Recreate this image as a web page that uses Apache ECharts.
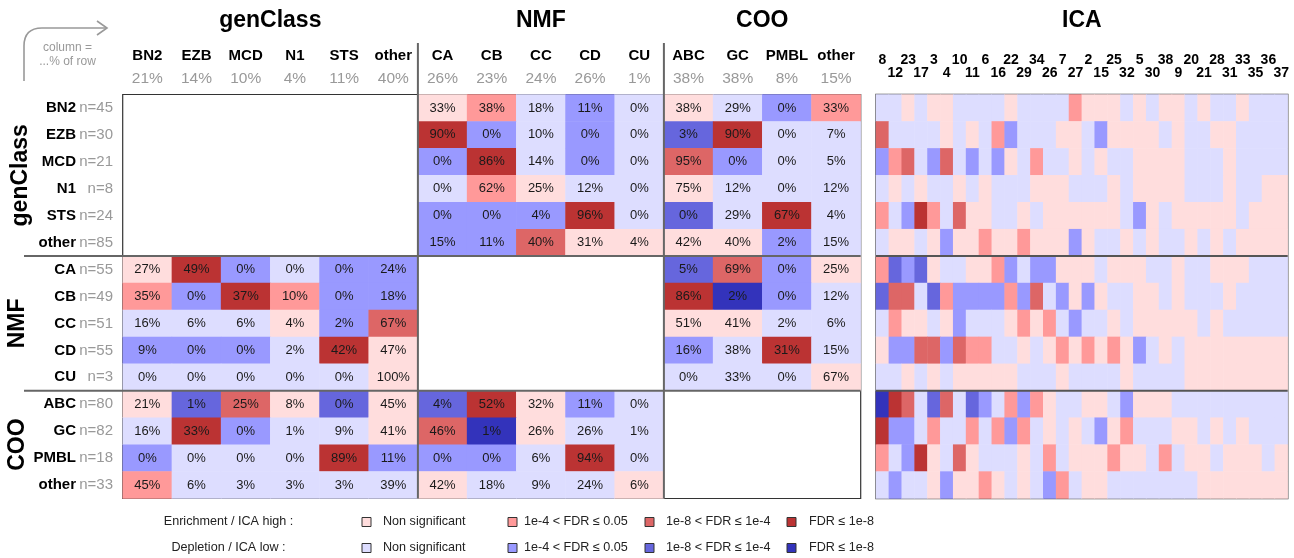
<!DOCTYPE html>
<html><head><meta charset="utf-8">
<script src="https://cdn.jsdelivr.net/npm/echarts@6/dist/echarts.min.js"></script>
<style>html,body{margin:0;padding:0;background:#fff}#c{width:1294px;height:558px}</style>
</head><body><div id="c"></div>
<script>
// ---------- data ----------
const genClassCats = ['BN2','EZB','MCD','N1','STS','other'];
const nmfCats = ['CA','CB','CC','CD','CU'];
const cooCats = ['ABC','GC','PMBL','other'];
const genClassColPct = [21,14,10,4,11,40];
const nmfColPct = [26,23,24,26,1];
const cooColPct = [38,38,8,15];
const genClassN = [45,30,21,8,24,85];
const nmfN = [55,49,51,55,3];
const cooN = [80,82,18,33];

// level: 1..4 enrichment (non-sig, <=0.05, <=1e-4, <=1e-8), -1..-4 depletion
const gcNmfPct = [[33,38,18,11,0],[90,0,10,0,0],[0,86,14,0,0],[0,62,25,12,0],[0,0,4,96,0],[15,11,40,31,4]];
const gcNmfLvl = [[1,2,-1,-2,-1],[4,-2,-1,-2,-1],[-2,4,-1,-2,-1],[-1,2,1,-1,-1],[-2,-2,-2,4,-1],[-2,-2,3,1,1]];
const gcCooPct = [[38,29,0,33],[3,90,0,7],[95,0,0,5],[75,12,0,12],[0,29,67,4],[42,40,2,15]];
const gcCooLvl = [[1,-1,-2,2],[-3,4,-1,-1],[3,-2,-1,-1],[1,-1,-1,-1],[-3,-1,4,-1],[1,1,-2,-1]];
const nmfGcPct = [[27,49,0,0,0,24],[35,0,37,10,0,18],[16,6,6,4,2,67],[9,0,0,2,42,47],[0,0,0,0,0,100]];
const nmfGcLvl = [[1,4,-2,-1,-2,-2],[2,-2,4,2,-2,-2],[-1,-1,-1,1,-2,3],[-2,-2,-2,-1,4,1],[-1,-1,-1,-1,-1,1]];
const nmfCooPct = [[5,69,0,25],[86,2,0,12],[51,41,2,6],[16,38,31,15],[0,33,0,67]];
const nmfCooLvl = [[-3,3,-2,1],[4,-4,-2,-1],[1,1,-1,-1],[-2,-1,4,-1],[-1,-1,-1,1]];
const cooGcPct = [[21,1,25,8,0,45],[16,33,0,1,9,41],[0,0,0,0,89,11],[45,6,3,3,3,39]];
const cooGcLvl = [[1,-3,3,1,-3,1],[-1,4,-2,-1,-1,1],[-2,-1,-1,-1,4,-2],[2,-1,-1,-1,-1,-1]];
const cooNmfPct = [[4,52,32,11,0],[46,1,26,26,1],[0,0,6,94,0],[42,18,9,24,6]];
const cooNmfLvl = [[-3,4,1,-2,-1],[3,-4,1,-1,-1],[-2,-2,-1,4,-1],[1,-1,-1,-1,1]];

const icaIds = [8,12,23,17,3,4,10,11,6,16,22,29,34,26,7,27,2,15,25,32,5,30,38,9,20,21,28,31,33,35,36,37];
const icaBN2  = [-1,-1,1,-1,1,1,-1,-1,-1,-1,1,-1,-1,-1,-1,2,1,1,1,-1,1,-1,1,1,-1,1,-1,-1,1,-1,-1,-1];
const icaEZB  = [3,-1,-1,-1,-1,1,-1,1,-1,2,-2,-1,-1,-1,1,1,-1,-2,1,1,1,1,-1,1,-1,-1,1,1,-1,-1,-1,-1];
const icaMCD  = [-2,2,3,-1,-2,3,-1,-2,-1,-2,1,-1,2,-1,-1,1,-1,1,-1,-1,1,1,1,1,-1,-1,-1,1,-1,-1,-1,-1];
const icaN1   = [-1,1,-1,1,-1,-1,1,-1,1,-1,-1,-1,1,1,1,-1,-1,-1,1,-1,1,1,1,1,-1,-1,-1,1,-1,-1,1,1];
const icaSTS  = [2,-1,-2,4,2,-1,3,1,1,-1,-1,1,-1,1,1,1,1,1,1,-1,-2,1,-1,1,1,1,1,1,-1,1,1,1];
const icaGcOther = [-1,1,1,-1,1,-2,1,1,2,1,1,2,1,1,1,-2,1,-1,-1,1,-1,1,-1,-1,1,-1,1,-1,1,1,1,1];
const icaCA   = [2,-3,-2,-3,1,-1,-1,1,1,2,-2,-1,-2,-2,1,1,1,-1,1,1,1,-1,-1,1,-1,-1,1,1,1,-1,-1,-1];
const icaCB   = [-3,3,3,-1,-3,2,-2,-2,-2,-2,2,-2,3,-1,-2,1,-2,1,-1,-1,1,1,-1,1,-1,-1,-1,1,-1,-1,-1,-1];
const icaCC   = [-1,2,1,1,-1,1,-2,-1,-1,-1,1,2,1,2,-1,-2,-1,-1,1,-1,1,1,1,1,1,-1,1,-1,-1,-1,-1,-1];
const icaCD   = [1,-2,-2,3,3,-2,3,2,2,-1,-1,1,-1,1,2,1,2,1,2,1,-2,-1,1,-1,1,1,1,1,1,1,1,1];
const icaCU   = [-1,-1,1,-1,1,-1,1,1,1,1,1,-1,-1,-1,1,-1,-1,-1,-1,1,-1,-1,-1,-1,1,1,1,1,1,1,1,1];
const icaABC  = [-4,4,3,-1,-3,3,-1,-3,-2,-1,2,-2,2,1,-1,-1,1,1,-1,-2,1,1,1,-1,-1,-1,-1,-1,-1,-1,-1,-1];
const icaGC   = [4,-2,-2,-1,2,-1,-1,2,-1,2,-2,2,-1,1,-1,1,-1,-2,1,2,-1,-1,-1,1,1,-1,1,-1,1,-1,-1,-1];
const icaPMBL = [2,-1,-2,4,1,-1,3,1,-1,-1,-1,1,-1,2,-1,1,1,1,2,1,1,-1,2,-1,1,1,-1,1,1,1,-1,1];
const icaCooOther = [-1,-2,-1,-1,1,-2,1,1,2,1,-1,1,-1,-2,2,-1,1,1,-1,-1,-1,-1,-1,-1,-1,1,1,1,1,1,1,1];

const legendLabels = ['Non significant','1e-4 < FDR \u2264 0.05','1e-8 < FDR \u2264 1e-4','FDR \u2264 1e-8'];
const legendHighLvls = [1,2,3,4];
const legendLowLvls = [-1,-2,-3,-4];
const legendRowTitles = ['Enrichment / ICA high :','Depletion / ICA low :'];

// ---------- styles ----------
const levelColors = {'-4':'#3333bb','-3':'#6666dd','-2':'#9999ff','-1':'#ddddff','1':'#ffdddd','2':'#ff9999','3':'#dd6666','4':'#bb3333'};
const FONT = '"Liberation Sans", Arial, Helvetica, sans-serif';

// ---------- build ----------
const rowNames = [...genClassCats, ...nmfCats, ...cooCats];
const rowKeys = [...genClassCats.map(c=>'g|'+c), ...nmfCats.map(c=>'n|'+c), ...cooCats.map(c=>'c|'+c)];
const rowNs = [...genClassN, ...nmfN, ...cooN];
const colPcts = [...genClassColPct, ...nmfColPct, ...cooColPct];
const icaRows = [icaBN2,icaEZB,icaMCD,icaN1,icaSTS,icaGcOther,icaCA,icaCB,icaCC,icaCD,icaCU,icaABC,icaGC,icaPMBL,icaCooOther];

const G = 0, N = 6, C = 11;
const mainData = [];
function addBlock(pct, lvl, r0, c0){
  pct.forEach((row,i)=>row.forEach((v,j)=>mainData.push([c0+j, r0+i, lvl[i][j], v])));
}
addBlock(gcNmfPct, gcNmfLvl, G, N);
addBlock(gcCooPct, gcCooLvl, G, C);
addBlock(nmfGcPct, nmfGcLvl, N, G);
addBlock(nmfCooPct, nmfCooLvl, N, C);
addBlock(cooGcPct, cooGcLvl, C, G);
addBlock(cooNmfPct, cooNmfLvl, C, N);

const icaData = [];
icaRows.forEach((row,i)=>row.forEach((lv,j)=>icaData.push([j,i,lv])));

// ---------- layout ----------
const L = 122.7, T = 94.5, W = 738, H = 404;
const L2 = 876, W2 = 411.7;
const cw = W/15, rh = H/15;

const graphics = [];
const titleDefs = [['genClass', 0, 6], ['NMF', 6, 11], ['COO', 11, 15]];
titleDefs.forEach(([t,a,b])=>{
  graphics.push({type:'text', x: L + (a+b)/2*cw, y: 21, style:{text:t, font:'bold 23px '+FONT, fill:'#000', textAlign:'center', textVerticalAlign:'middle'}});
});
graphics.push({type:'text', x: L2 + W2/2, y: 21, style:{text:'ICA', font:'bold 23px '+FONT, fill:'#000', textAlign:'center', textVerticalAlign:'middle'}});
const sideDefs = [['genClass', 0, 6, 20.8], ['NMF', 6, 11, 17.3], ['COO', 11, 15, 17.3]];
sideDefs.forEach(([t,a,b,x])=>{
  graphics.push({type:'text', x: x, y: T + (a+b)/2*rh, rotation: Math.PI/2, style:{text:t, font:'bold 23px '+FONT, fill:'#000', textAlign:'center', textVerticalAlign:'middle'}});
});
// separators
[6, 11].forEach(k=>{
  graphics.push({type:'line', shape:{x1: L+k*cw, y1: 43, x2: L+k*cw, y2: T+H}, style:{stroke:'#666', lineWidth:2}, z: 100});
  graphics.push({type:'line', shape:{x1: 24, y1: T+k*rh, x2: L+W, y2: T+k*rh}, style:{stroke:'#666', lineWidth:2}, z: 100});
  graphics.push({type:'line', shape:{x1: L2, y1: T+k*rh, x2: L2+W2, y2: T+k*rh}, style:{stroke:'#555', lineWidth:2}, z: 100});
});
// arrow note
const arrowStyle = {stroke:'#999', fill:null, lineWidth:1.6};
graphics.push({type:'line', shape:{x1:24, y1:81, x2:24, y2:46}, style:arrowStyle});
graphics.push({type:'bezierCurve', shape:{x1:24, y1:46, x2:42, y2:28, cpx1:24, cpy1:28}, style:arrowStyle});
graphics.push({type:'line', shape:{x1:42, y1:28, x2:107, y2:28}, style:arrowStyle});
graphics.push({type:'polyline', shape:{points:[[97,21],[107,28],[97,35]]}, style:arrowStyle});
graphics.push({type:'text', x: 67.5, y: 48, style:{text:'column =', font:'12px '+FONT, fill:'#999', textAlign:'center', textVerticalAlign:'middle'}});
graphics.push({type:'text', x: 67.5, y: 62, style:{text:'...% of row', font:'12px '+FONT, fill:'#999', textAlign:'center', textVerticalAlign:'middle'}});
// legend
const legSqX = [362, 508, 645, 787], legTxtX = [383, 524, 666, 809], legY = [522, 548];
[legendHighLvls, legendLowLvls].forEach((lv, r)=>{
  graphics.push({type:'text', x: 228.5, y: legY[r], style:{text: legendRowTitles[r], font:'12.6px '+FONT, fill:'#222', textAlign:'center', textVerticalAlign:'middle'}});
  lv.forEach((l,k)=>{
    graphics.push({type:'rect', shape:{x: legSqX[k], y: legY[r]-4.5, width: 9, height: 9}, style:{fill: levelColors[l], stroke:'#333', lineWidth:1}});
    graphics.push({type:'text', x: legTxtX[k], y: legY[r], style:{text: legendLabels[k], font:'12.6px '+FONT, fill:'#222', textAlign:'left', textVerticalAlign:'middle'}});
  });
});

const pieces = Object.keys(levelColors).map(k=>({value: +k, color: levelColors[k]}));

const option = {
  animation: false,
  backgroundColor: '#fff',
  textStyle: {fontFamily: FONT},
  grid: [
    {left: L, top: T, width: W, height: H, show: true, borderColor: '#333', borderWidth: 1.2, backgroundColor: '#fff', z: 3},
    {left: L2, top: T, width: W2, height: H, show: true, borderColor: '#444', borderWidth: 1.5, backgroundColor: '#fff', z: 3}
  ],
  xAxis: [
    {type:'category', gridIndex:0, position:'top', data: rowKeys,
     axisLine:{show:false}, axisTick:{show:false}, splitLine:{show:false},
     axisLabel:{interval:0, margin:3.8,
       formatter:(v,i)=>`{n|${rowNames[i]}}\n{p|${colPcts[i]}%}`,
       rich:{n:{fontFamily:FONT, fontWeight:'bold', fontSize:15, color:'#000', lineHeight:23.5},
             p:{fontFamily:FONT, fontSize:15.5, color:'#999', lineHeight:23.5}}}},
    {type:'category', gridIndex:1, position:'top', data: icaIds.map(String),
     axisLine:{show:false}, axisTick:{show:false}, splitLine:{show:false},
     axisLabel:{interval:0, margin:14.5,
       formatter:(v,i)=> i%2===0 ? `{t|${v}}\n{t| }` : `{t| }\n{t|${v}}`,
       rich:{t:{fontFamily:FONT, fontWeight:'bold', fontSize:14, color:'#000', lineHeight:13.5}}}}
  ],
  yAxis: [
    {type:'category', gridIndex:0, inverse:true, data: rowKeys,
     axisLine:{show:false}, axisTick:{show:false}, splitLine:{show:false},
     axisLabel:{interval:0, margin: L-113,
       formatter:(v,i)=>`{a|${rowNames[i]}}{n|n=${rowNs[i]}}`,
       rich:{a:{fontFamily:FONT, fontWeight:'bold', fontSize:15, color:'#000', width:62, align:'right'},
             n:{fontFamily:FONT, fontSize:15, color:'#999', width:37, align:'right'}}}},
    {type:'category', gridIndex:1, inverse:true, data: rowKeys,
     axisLine:{show:false}, axisTick:{show:false}, splitLine:{show:false}, axisLabel:{show:false}}
  ],
  visualMap: {type:'piecewise', show:false, dimension:2, seriesIndex:[0,1], pieces: pieces},
  series: [
    {type:'heatmap', xAxisIndex:0, yAxisIndex:0, data: mainData, z: 5,
     label:{show:true, formatter: p=>p.value[3]+'%', fontFamily:FONT, fontSize:13, color:'#1a1a1a'},
     emphasis:{disabled:true}},
    {type:'heatmap', xAxisIndex:1, yAxisIndex:1, data: icaData, z: 5, emphasis:{disabled:true}}
  ],
  graphic: {elements: graphics}
};
const chart = echarts.init(document.getElementById('c'), null, {renderer:'canvas'});
chart.setOption(option);
</script>
</body></html>
